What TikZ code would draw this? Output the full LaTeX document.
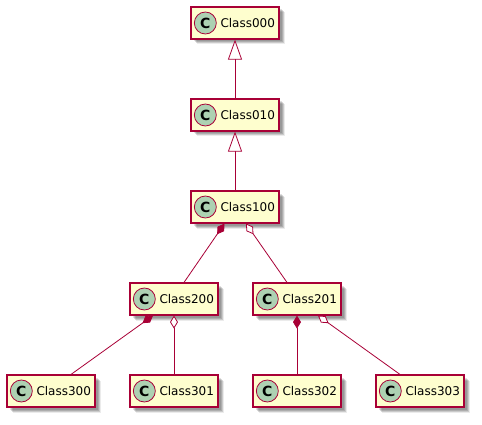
\documentclass[tikz,border=0pt]{standalone}
\usepackage{fontspec}
\setmainfont{DejaVu Sans}
\usetikzlibrary{positioning,shadows,arrows.meta}
\definecolor{umlred}{HTML}{A80036}
\definecolor{umlfill}{HTML}{FEFECE}
\definecolor{umlgreen}{HTML}{ADD1B2}
\tikzset{
  classbox/.style={draw=umlred, fill=umlfill, line width=1.15pt, minimum height=32pt,
    text width=80pt, align=right, inner xsep=4pt, inner ysep=0pt, font=\fontsize{12}{14}\selectfont,
    general shadow={shadow xshift=2.5pt, shadow yshift=-2.5pt, fill=black, opacity=0.12},
    general shadow={shadow xshift=3.5pt, shadow yshift=-3.5pt, fill=black, opacity=0.14},
    general shadow={shadow xshift=4.5pt, shadow yshift=-4.5pt, fill=black, opacity=0.14},
    general shadow={shadow xshift=5.5pt, shadow yshift=-5.5pt, fill=black, opacity=0.08}},
  cmark/.style={circle, draw=umlred, fill=umlgreen, line width=0.8pt, minimum size=22pt, inner sep=0pt,
    font=\fontsize{14}{14}\selectfont\bfseries},
  link/.style={draw=umlred, line width=0.8pt},
  isa/.style={link, {Triangle[open, fill=white, length=20pt, width=14pt, line width=0.8pt]}-},
  comp/.style={link, {Diamond[length=13pt, width=8pt]}-},
  aggr/.style={link, {Diamond[open, fill=white, length=13pt, width=8pt, line width=0.8pt]}-},
}

\begin{document}
\begin{tikzpicture}[on grid, node distance=92pt]
  \useasboundingbox (0,0) rectangle (482pt,-425pt);

  \node[classbox] (c000) at (235pt,-23pt) {Class000};
  \node[classbox, below=of c000] (c010) {Class010};
  \node[classbox, below=of c010] (c100) {Class100};

  \node[classbox, below left=92pt and 61pt of c100] (c200) {Class200};
  \node[classbox, below right=92pt and 62pt of c100] (c201) {Class201};

  \node[classbox, below left=92pt and 123pt of c200] (c300) {Class300};
  \node[classbox, below=of c200] (c301) {Class301};
  \node[classbox, below=of c201] (c302) {Class302};
  \node[classbox, below right=92pt and 123pt of c201] (c303) {Class303};

  \foreach \n in {c000,c010,c100,c200,c201,c300,c301,c302,c303}
    \node[cmark, on grid=false, right=3.5pt of \n.west] (\n mark) {C};

  \draw[isa] (c000.south) -- (c010.north);
  \draw[isa] (c010.south) -- (c100.north);

  \draw[comp] ([xshift=-10.5pt]c100.south) -- ([xshift=10pt]c200.north);
  \draw[aggr] ([xshift=11pt]c100.south) -- ([xshift=-10pt]c201.north);

  \draw[comp] ([xshift=-21pt]c200.south) -- ([xshift=20pt]c300.north);
  \draw[aggr] (c200.south) -- (c301.north);

  \draw[comp] (c201.south) -- (c302.north);
  \draw[aggr] ([xshift=21pt]c201.south) -- ([xshift=-20pt]c303.north);
\end{tikzpicture}
\end{document}
